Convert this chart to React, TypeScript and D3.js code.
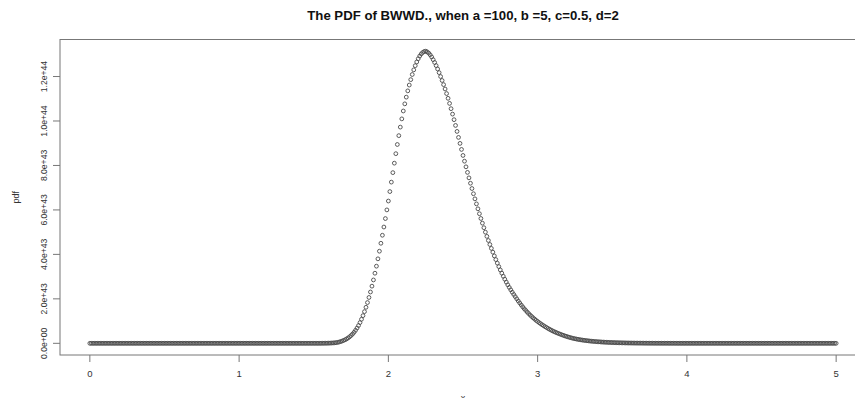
import React from "react";
import * as d3 from "d3";

// pdf values (in units of 1e42), x = 0.00 .. 5.00 step 0.01
const PDF_UNIT = 1e42;
const X_START = 0;
const X_STEP = 0.01;
const PDF_E42: number[] = [
  // 0.0x - 1.4x
  0, 0, 0, 0, 0, 0, 0, 0, 0, 0,
  0, 0, 0, 0, 0, 0, 0, 0, 0, 0,
  0, 0, 0, 0, 0, 0, 0, 0, 0, 0,
  0, 0, 0, 0, 0, 0, 0, 0, 0, 0,
  0, 0, 0, 0, 0, 0, 0, 0, 0, 0,
  0, 0, 0, 0, 0, 0, 0, 0, 0, 0,
  0, 0, 0, 0, 0, 0, 0, 0, 0, 0,
  0, 0, 0, 0, 0, 0, 0, 0, 0, 0,
  0, 0, 0, 0, 0, 0, 0, 0, 0, 0,
  0, 0, 0, 0, 0, 0, 0, 0, 0, 0,
  0, 0, 0, 0, 0, 0, 0, 0, 0, 0,
  0, 0, 0, 0, 0, 0, 0, 0, 0, 0,
  0, 0, 0, 0, 0, 0, 0, 0, 0, 0,
  0, 0, 0, 0, 0, 0, 0, 0, 0, 0,
  0, 0, 0, 0, 0, 0, 0, 0, 0, 0,
  // 1.5x
  0, 0, 0, 0, 0, 0.01, 0.02, 0.03, 0.04, 0.05,
  // 1.6x
  0.07, 0.1, 0.13, 0.17, 0.23, 0.3, 0.42, 0.58, 0.78, 1.02,
  // 1.7x
  1.3, 1.6, 1.97, 2.41, 2.92, 3.5, 4.16, 4.94, 5.84, 6.86,
  // 1.8x
  8.0, 9.33, 10.81, 12.45, 14.25, 16.2, 18.33, 20.62, 23.08, 25.71,
  // 1.9x
  28.5, 31.53, 34.7, 38.0, 41.43, 45.0, 48.61, 52.31, 56.11, 60.01,
  // 2.0x
  64.0, 68.25, 72.51, 76.77, 81.03, 85.3, 89.43, 93.41, 97.25, 100.95,
  // 2.1x
  104.5, 107.71, 110.73, 113.55, 116.17, 118.6, 120.91, 123.0, 124.88, 126.55,
  // 2.2x
  128.0, 129.21, 130.15, 130.83, 131.25, 131.4, 131.08, 130.54, 129.78, 128.8,
  // 2.3x
  127.6, 126.32, 124.92, 123.4, 121.76, 120.0, 118.22, 116.36, 114.4, 112.34,
  // 2.4x
  110.2, 107.91, 105.54, 103.1, 100.59, 98.0, 95.31, 92.62, 89.92, 87.21,
  // 2.5x
  84.5, 81.92, 79.38, 76.88, 74.42, 72.0, 69.62, 67.28, 64.98, 62.72,
  // 2.6x
  60.5, 58.3, 56.15, 54.05, 52.0, 50.0, 48.1, 46.25, 44.45, 42.7,
  // 2.7x
  41.0, 39.31, 37.66, 36.06, 34.51, 33.0, 31.55, 30.16, 28.82, 27.53,
  // 2.8x
  26.3, 25.16, 24.05, 22.99, 21.98, 21.0, 20.02, 19.06, 18.14, 17.26,
  // 2.9x
  16.4, 15.59, 14.82, 14.08, 13.37, 12.7, 12.06, 11.46, 10.88, 10.32,
  // 3.0x
  9.8, 9.3, 8.82, 8.36, 7.92, 7.5, 7.09, 6.69, 6.31, 5.95,
  // 3.1x
  5.6, 5.28, 4.98, 4.69, 4.41, 4.15, 3.89, 3.64, 3.4, 3.17,
  // 3.2x
  2.95, 2.75, 2.55, 2.37, 2.21, 2.05, 1.92, 1.79, 1.67, 1.56,
  // 3.3x
  1.45, 1.36, 1.27, 1.18, 1.1, 1.02, 0.95, 0.89, 0.83, 0.77,
  // 3.4x
  0.72, 0.67, 0.63, 0.58, 0.54, 0.5, 0.47, 0.43, 0.4, 0.37,
  // 3.5x
  0.34, 0.32, 0.29, 0.27, 0.25, 0.23, 0.21, 0.2, 0.18, 0.16,
  // 3.6x
  0.15, 0.14, 0.13, 0.12, 0.11, 0.1, 0.09, 0.09, 0.08, 0.08,
  // 3.7x
  0.07, 0.06, 0.06, 0.05, 0.05, 0.04, 0.04, 0.04, 0.03, 0.03,
  // 3.8x
  0.03, 0.03, 0.03, 0.02, 0.02, 0.02, 0.02, 0.02, 0.01, 0.01,
  // 3.9x
  0.01, 0.01, 0.01, 0, 0, 0, 0, 0, 0, 0,
  // 4.0x - 4.9x
  0, 0, 0, 0, 0, 0, 0, 0, 0, 0,
  0, 0, 0, 0, 0, 0, 0, 0, 0, 0,
  0, 0, 0, 0, 0, 0, 0, 0, 0, 0,
  0, 0, 0, 0, 0, 0, 0, 0, 0, 0,
  0, 0, 0, 0, 0, 0, 0, 0, 0, 0,
  0, 0, 0, 0, 0, 0, 0, 0, 0, 0,
  0, 0, 0, 0, 0, 0, 0, 0, 0, 0,
  0, 0, 0, 0, 0, 0, 0, 0, 0, 0,
  0, 0, 0, 0, 0, 0, 0, 0, 0, 0,
  0, 0, 0, 0, 0, 0, 0, 0, 0, 0,
  // 5.00
  0,
];

const X_TICKS = [0, 1, 2, 3, 4, 5];
const Y_TICKS = [0, 2e43, 4e43, 6e43, 8e43, 1e44, 1.2e44];
const Y_TICK_LABELS = ["0.0e+00", "2.0e+43", "4.0e+43", "6.0e+43", "8.0e+43", "1.0e+44", "1.2e+44"];
const TITLE = "The PDF of BWWD., when a =100, b =5, c=0.5, d=2";
const X_LABEL = "x";
const Y_LABEL = "pdf";

const W = 855;
const H = 398;
const PLOT = { left: 60, right: 866, top: 39.5, bottom: 355 };
const FONT = "'Liberation Sans', Arial, Helvetica, sans-serif";

export default function App() {
  const points = PDF_E42.map((v, i) => ({ x: X_START + i * X_STEP, y: v * PDF_UNIT }));
  const xExt = d3.extent(points, (d) => d.x) as [number, number];
  const yExt = d3.extent(points, (d) => d.y) as [number, number];
  const xPad = (xExt[1] - xExt[0]) * 0.04;
  const yPad = (yExt[1] - yExt[0]) * 0.04;
  const x = d3.scaleLinear().domain([xExt[0] - xPad, xExt[1] + xPad]).range([PLOT.left, PLOT.right]);
  const y = d3.scaleLinear().domain([yExt[0] - yPad, yExt[1] + yPad]).range([PLOT.bottom, PLOT.top]);
  const cx = (PLOT.left + PLOT.right) / 2;
  const cy = (PLOT.top + PLOT.bottom) / 2;

  return (
    <svg
      width={W}
      height={H}
      style={{ position: "absolute", left: 0, top: 0, background: "#fff" }}
      fontFamily={FONT}
    >
      <rect x={0} y={0} width={W} height={H} fill="#fff" />
      <text x={cx} y={20} textAnchor="middle" fontWeight="bold" fontSize={13.2} fill="#111">
        {TITLE}
      </text>
      <rect
        x={PLOT.left}
        y={PLOT.top}
        width={PLOT.right - PLOT.left}
        height={PLOT.bottom - PLOT.top}
        fill="none"
        stroke="#777"
        strokeWidth={1}
      />
      {X_TICKS.map((t) => (
        <g key={"xt" + t}>
          <line x1={x(t)} x2={x(t)} y1={PLOT.bottom} y2={PLOT.bottom + 7} stroke="#777" />
          <text x={x(t)} y={376.5} textAnchor="middle" fontSize={9.5} fill="#333">
            {t}
          </text>
        </g>
      ))}
      {Y_TICKS.map((t, i) => (
        <g key={"yt" + i}>
          <line x1={PLOT.left - 7} x2={PLOT.left} y1={y(t)} y2={y(t)} stroke="#777" />
          <text
            transform={`translate(46.5,${y(t)}) rotate(-90)`}
            textAnchor="middle"
            fontSize={8.6}
            fill="#333"
          >
            {Y_TICK_LABELS[i]}
          </text>
        </g>
      ))}
      <text transform={`translate(19,${cy}) rotate(-90)`} textAnchor="middle" fontSize={9} fill="#333">
        {Y_LABEL}
      </text>
      <text x={cx} y={401} textAnchor="middle" fontSize={9} fill="#333">
        {X_LABEL}
      </text>
      <g fill="none" stroke="#4a4a4a" strokeWidth={0.9}>
        {points.map((d, i) => (
          <circle key={i} cx={x(d.x)} cy={y(d.y)} r={1.9} />
        ))}
      </g>
    </svg>
  );
}
